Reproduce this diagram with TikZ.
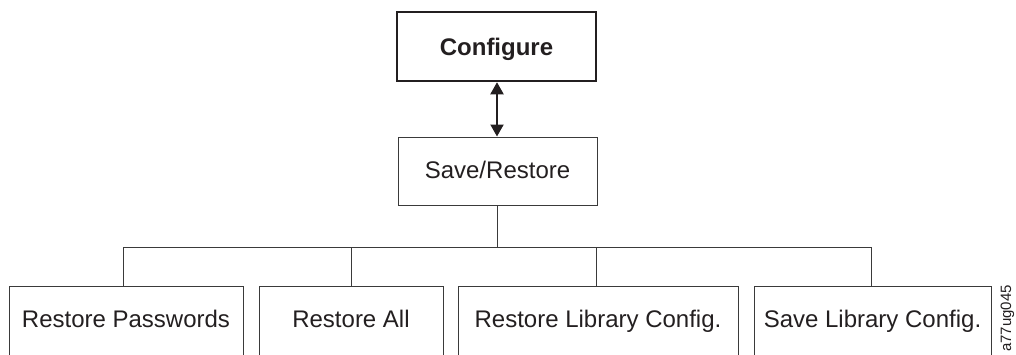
\documentclass[tikz,border=0pt]{standalone}
\usepackage{fontspec}
\setmainfont{Liberation Sans}
\usetikzlibrary{arrows.meta}
\definecolor{ink}{HTML}{231F20}
\definecolor{wire}{HTML}{3A3A3A}
\begin{document}
\begin{tikzpicture}[x=1pt,y=-1pt,
  box/.style={draw=wire, line width=1pt, inner sep=0pt, text=ink,
    font=\fontsize{24}{26}\selectfont, minimum height=68pt,
    text height=17pt, text depth=2.4pt},
  topbox/.style={box, draw=ink, line width=2.5pt, font=\fontsize{24}{26}\selectfont\bfseries,
    minimum width=199pt, minimum height=69pt, text height=17pt, text depth=0pt},
  leaf/.style={box, minimum height=70pt, text height=17pt, text depth=4.5pt},
  wire/.style={draw=wire, line width=1pt}]
\useasboundingbox (0,0) rectangle (1016,354);
\clip (0,0) rectangle (1016,354);
\node[topbox] (cfg) at (496.5,46.5) {Configure};
\node[box, minimum width=199pt] (sr) at (497.5,171) {Save/Restore};
\node[leaf, minimum width=234pt] (b1) at (126,321) {Restore Passwords};
\node[leaf, minimum width=184pt] (b2) at (351,321) {Restore All};
\node[leaf, minimum width=280pt] (b3) at (598,321) {Restore Library Config.};
\node[leaf, minimum width=237pt] (b4) at (872.5,321) {Save Library Config.};
\coordinate (bus) at (497,247);
\draw[<->, draw=ink, line width=2pt, >={Triangle[length=12pt,width=13pt]}]
  ([xshift=0.5pt]cfg.south) -- ([xshift=-0.5pt]sr.north);
\draw[wire] ([xshift=-0.5pt]sr.south) -- (bus);
\draw[wire] ([xshift=-3pt]b1.north) -- ([xshift=-3pt]b1.north |- bus) -- ([xshift=-1.5pt]b4.north |- bus) -- ([xshift=-1.5pt]b4.north);
\draw[wire] (b2.north) -- (b2.north |- bus);
\draw[wire] ([xshift=-2pt]b3.north) -- ([xshift=-2pt]b3.north |- bus);
\node[rotate=90, anchor=base east, inner sep=0pt, text=ink, font=\fontsize{15}{17}\selectfont] (tag) at (1011,285) {a77ug045};
\end{tikzpicture}
\end{document}
